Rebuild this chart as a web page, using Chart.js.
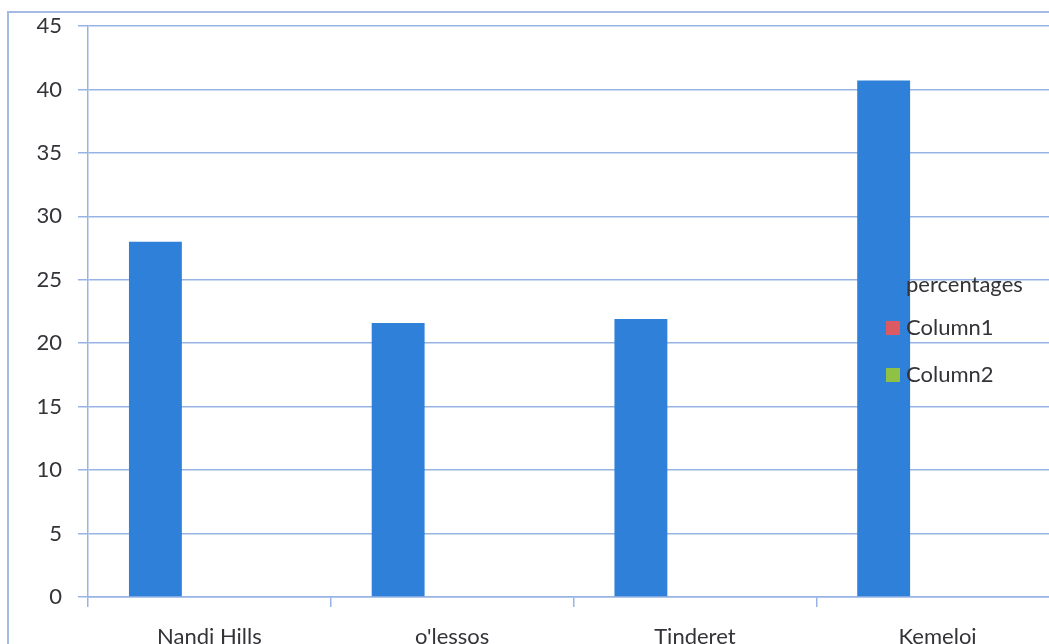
<!DOCTYPE html>
<html>
<head>
<meta charset="utf-8">
<script src="https://cdn.jsdelivr.net/npm/chart.js@4/dist/chart.umd.min.js"></script>
<style>
  html, body { margin: 0; padding: 0; background: #fff; overflow: hidden; }
  #wrap { position: relative; width: 1049px; height: 644px; overflow: hidden; }
  #frame {
    position: absolute; left: 7px; top: 11px; width: 1100px; height: 700px;
    border-left: 2px solid #a3bae2; border-top: 2px solid #a3bae2;
  }
  #chart { position: absolute; left: 0; top: 0; }
</style>
</head>
<body>
<div id="wrap">
  <div id="frame"></div>
  <canvas id="chart" width="1080" height="680"></canvas>
</div>
<script>
const places = ["Nandi Hills", "o'lessos", "Tinderet", "Kemeloi"];
const percentages = [28, 21.6, 21.9, 40.7];
const column1 = [null, null, null, null];
const column2 = [null, null, null, null];
const yTicks = [0, 5, 10, 15, 20, 25, 30, 35, 40, 45];

const gridBlue = "#97b4e4";
const textGrey = "#333338";
const font = { family: "Lato", size: 22 };

// legend sits on top of the plot, next to the last bar
const floatingLegend = {
  id: "floatingLegend",
  afterDatasetsDraw(chart) {
    const ctx = chart.ctx;
    const rows = [285, 328, 375];
    ctx.save();
    ctx.font = "22px Lato";
    ctx.textBaseline = "middle";
    ctx.textAlign = "left";
    chart.data.datasets.forEach((ds, i) => {
      const y = rows[i];
      ctx.fillStyle = ds.backgroundColor;
      ctx.fillRect(886, y - 7, 14, 14);
      ctx.fillStyle = textGrey;
      ctx.fillText(ds.label, 906, y);
    });
    ctx.restore();
  }
};

new Chart(document.getElementById("chart"), {
  type: "bar",
  data: {
    labels: places,
    datasets: [
      { label: "percentages", data: percentages, backgroundColor: "#2f80d9" },
      { label: "Column1", data: column1, backgroundColor: "#dd5a62" },
      { label: "Column2", data: column2, backgroundColor: "#8fc244" }
    ]
  },
  options: {
    responsive: false,
    animation: false,
    devicePixelRatio: 1,
    layout: { padding: { top: 26, right: 21, left: 0, bottom: 0 } },
    categoryPercentage: 0.667,
    barPercentage: 0.98,
    plugins: {
      legend: { display: false },
      tooltip: { enabled: false }
    },
    scales: {
      x: {
        grid: { drawOnChartArea: false, color: gridBlue, lineWidth: 1.5, tickLength: 10 },
        border: { color: gridBlue, width: 1.5 },
        ticks: { color: textGrey, font: font, padding: 17, maxRotation: 0 },
        afterFit(scale) { scale.height = 83; }
      },
      y: {
        min: 0,
        max: 45,
        grid: { color: gridBlue, lineWidth: 1.5, tickLength: 10 },
        border: { color: gridBlue, width: 1.5 },
        ticks: {
          color: textGrey, font: font, padding: 16, stepSize: 5,
          callback: (v) => yTicks.includes(v) ? v : ""
        },
        afterFit(scale) {
          scale.width = 88;
          scale.paddingTop = 0;
          scale.paddingBottom = 0;
        }
      }
    }
  },
  plugins: [floatingLegend]
});
</script>
</body>
</html>
